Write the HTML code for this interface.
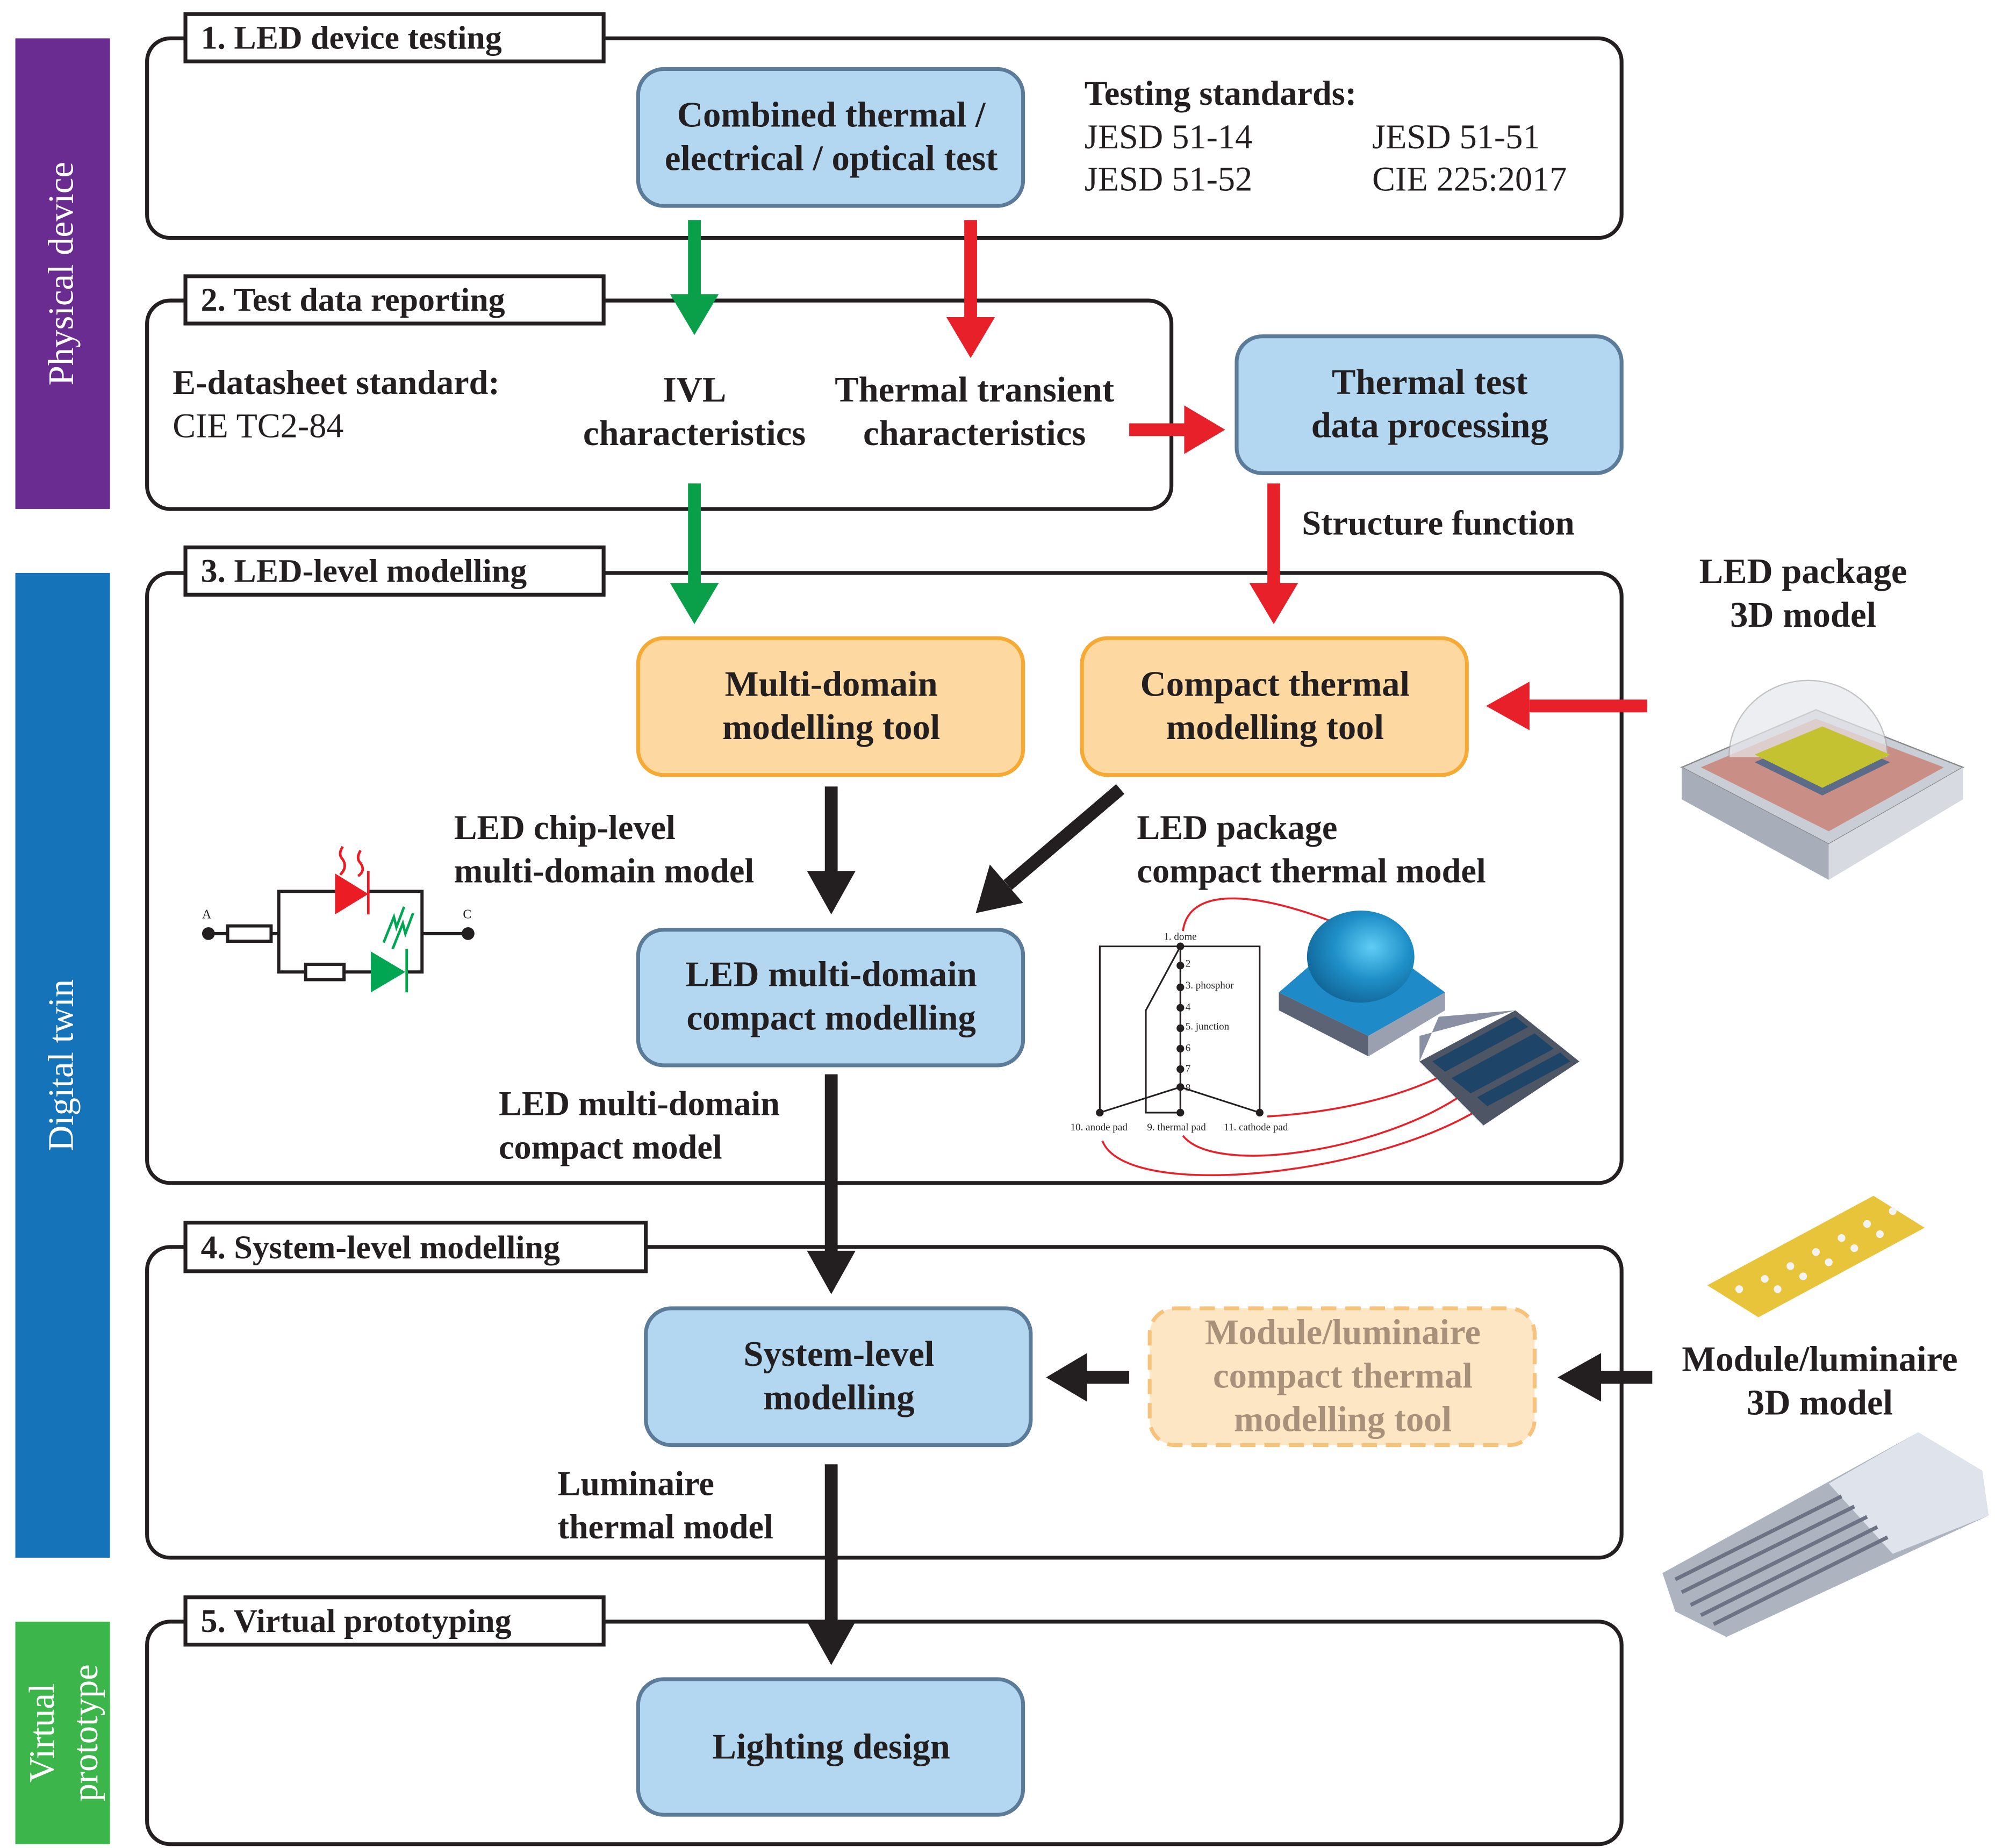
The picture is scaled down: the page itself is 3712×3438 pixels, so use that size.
<!DOCTYPE html>
<html><head><meta charset="utf-8"><style>
html,body{margin:0;padding:0;background:#fff}
svg{display:block}
text{font-family:"Liberation Serif",serif;fill:#231f20}
.b{font-weight:bold}
</style></head><body>
<svg width="3712" height="3438" viewBox="0 0 1560 1445" preserveAspectRatio="none" xmlns="http://www.w3.org/2000/svg">
<defs>
<radialGradient id="dome" cx="0.6" cy="0.4" r="0.7"><stop offset="0" stop-color="#5fcdf5"/><stop offset="0.5" stop-color="#1f8fc8"/><stop offset="1" stop-color="#0f5f90"/></radialGradient>
</defs>
<!-- side bars -->
<rect x="12" y="30" width="74" height="368" fill="#6a2c91"/>
<rect x="12" y="448" width="74" height="770" fill="#1473b9"/>
<rect x="12" y="1268" width="74" height="174" fill="#3cb54a"/>
<text transform="translate(57,214) rotate(-90)" text-anchor="middle" font-size="28" style="fill:#fff">Physical device</text>
<text transform="translate(57,833) rotate(-90)" text-anchor="middle" font-size="28" style="fill:#fff">Digital twin</text>
<text transform="translate(42,1355) rotate(-90)" text-anchor="middle" font-size="28" style="fill:#fff">Virtual</text>
<text transform="translate(76,1355) rotate(-90)" text-anchor="middle" font-size="28" style="fill:#fff">prototype</text>

<!-- section boxes -->
<g fill="none" stroke="#231f20" stroke-width="3">
<rect x="115" y="30" width="1153" height="156" rx="18"/>
<rect x="115" y="235" width="801" height="163" rx="18"/>
<rect x="115" y="448" width="1153" height="477" rx="18"/>
<rect x="115" y="975" width="1153" height="243" rx="18"/>
<rect x="115" y="1268" width="1153" height="174" rx="18"/>
</g>
<g fill="#fff" stroke="#231f20" stroke-width="3">
<rect x="145" y="11" width="327" height="37"/>
<rect x="145" y="216" width="327" height="37"/>
<rect x="145" y="428" width="327" height="37"/>
<rect x="145" y="956" width="360" height="38"/>
<rect x="145" y="1249" width="327" height="37"/>
</g>
<g class="b" font-size="26">
<text x="157" y="38" class="b">1. LED device testing</text>
<text x="157" y="243" class="b">2. Test data reporting</text>
<text x="157" y="455" class="b">3. LED-level modelling</text>
<text x="157" y="984" class="b">4. System-level modelling</text>
<text x="157" y="1276" class="b">5. Virtual prototyping</text>
</g>

<!-- blue boxes -->
<g fill="#b3d6f1" stroke="#5b7b98" stroke-width="3">
<rect x="499" y="54" width="301" height="107" rx="20"/>
<rect x="967" y="263" width="301" height="107" rx="20"/>
<rect x="499" y="727" width="301" height="106" rx="20"/>
<rect x="505" y="1023" width="301" height="107" rx="20"/>
<rect x="499" y="1313" width="301" height="106" rx="20"/>
</g>
<g fill="#fdd9a1" stroke="#f6a933" stroke-width="3">
<rect x="499" y="499" width="301" height="107" rx="20"/>
<rect x="846" y="499" width="301" height="107" rx="20"/>
</g>
<rect x="899" y="1023" width="301" height="107" rx="20" fill="#fde6c4" stroke="#f8c27a" stroke-width="3" stroke-dasharray="12,7"/>

<g font-size="28" text-anchor="middle" class="b">
<text x="650" y="99" class="b">Combined thermal /</text>
<text x="650" y="133" class="b">electrical / optical test</text>
<text x="1118" y="308" class="b">Thermal test</text>
<text x="1118" y="342" class="b">data processing</text>
<text x="650" y="544" class="b">Multi-domain</text>
<text x="650" y="578" class="b">modelling tool</text>
<text x="997" y="544" class="b">Compact thermal</text>
<text x="997" y="578" class="b">modelling tool</text>
<text x="650" y="771" class="b">LED multi-domain</text>
<text x="650" y="805" class="b">compact modelling</text>
<text x="656" y="1068" class="b">System-level</text>
<text x="656" y="1102" class="b">modelling</text>
<text x="1050" y="1051" class="b" style="fill:#a8917a">Module/luminaire</text>
<text x="1050" y="1085" class="b" style="fill:#a8917a">compact thermal</text>
<text x="1050" y="1119" class="b" style="fill:#a8917a">modelling tool</text>
<text x="650" y="1375" class="b">Lighting design</text>
<text x="543" y="314" class="b">IVL</text>
<text x="543" y="348" class="b">characteristics</text>
<text x="762" y="314" class="b">Thermal transient</text>
<text x="762" y="348" class="b">characteristics</text>
<text x="1410" y="456" class="b">LED package</text>
<text x="1410" y="490" class="b">3D model</text>
<text x="1423" y="1072" class="b">Module/luminaire</text>
<text x="1423" y="1106" class="b">3D model</text>
</g>
<g font-size="27">
<text x="848" y="82" class="b">Testing standards:</text>
<text x="848" y="116">JESD 51-14</text>
<text x="1073" y="116">JESD 51-51</text>
<text x="848" y="149">JESD 51-52</text>
<text x="1073" y="149">CIE 225:2017</text>
<text x="135" y="308" class="b">E-datasheet standard:</text>
<text x="135" y="342">CIE TC2-84</text>
<text x="1018" y="418" class="b">Structure function</text>
<text x="355" y="656" class="b">LED chip-level</text>
<text x="355" y="690" class="b">multi-domain model</text>
<text x="889" y="656" class="b">LED package</text>
<text x="889" y="690" class="b">compact thermal model</text>
<text x="390" y="872" class="b">LED multi-domain</text>
<text x="390" y="906" class="b">compact model</text>
<text x="436" y="1169" class="b">Luminaire</text>
<text x="436" y="1203" class="b">thermal model</text>
</g>

<!-- arrows -->
<g fill="#0aa04a">
<rect x="538" y="172" width="10" height="60"/><polygon points="524,230 562,230 543,262"/>
<rect x="538" y="378" width="10" height="80"/><polygon points="524,456 562,456 543,488"/>
</g>
<g fill="#e8202a">
<rect x="754" y="172" width="10" height="78"/><polygon points="740,248 778,248 759,280"/>
<rect x="991" y="378" width="10" height="80"/><polygon points="977,456 1015,456 996,488"/>
<rect x="883" y="331" width="45" height="10"/><polygon points="926,317 926,355 958,336"/>
<rect x="1196" y="547" width="92" height="10"/><polygon points="1196,533 1196,571 1162,552"/>
</g>
<g fill="#231f20">
<rect x="645" y="615" width="10" height="68"/><polygon points="631,681 669,681 650,715"/>
<rect x="645" y="840" width="10" height="140"/><polygon points="631,978 669,978 650,1012"/>
<rect x="645" y="1145" width="10" height="125"/><polygon points="631,1268 669,1268 650,1302"/>
<rect x="848" y="1072" width="35" height="10"/><polygon points="850,1058 850,1096 818,1077"/>
<rect x="1250" y="1072" width="42" height="10"/><polygon points="1252,1058 1252,1096 1218,1077"/>
<line x1="876" y1="617" x2="788" y2="692" stroke="#231f20" stroke-width="10"/>
<polygon points="774,676 800,706 763,714"/>
</g>

<!-- circuit -->
<g stroke="#231f20" stroke-width="2.5" fill="none">
<path d="M163,730 H178 M212,730 H218 V697 H262 M288,697 H330 V730 H366 M218,730 V760 H239 M269,760 H290 M318,760 H330 V730"/>
<rect x="178" y="724" width="34" height="12"/>
<rect x="239" y="754" width="30" height="12"/>
</g>
<circle cx="163" cy="730" r="5" fill="#231f20"/><circle cx="366" cy="730" r="5" fill="#231f20"/>
<text x="158" y="718" font-size="10">A</text><text x="362" y="718" font-size="10">C</text>
<polygon points="262,683 262,715 288,699" fill="#ec1c24"/><line x1="288" y1="681" x2="288" y2="715" stroke="#ec1c24" stroke-width="2"/>
<path d="M268,662 q-4,6 0,10 q4,6 -2,12 M282,665 q-4,6 0,10 q4,6 -2,10" stroke="#ec1c24" stroke-width="2" fill="none"/>
<polygon points="290,744 290,776 317,760" fill="#00a651"/><line x1="318" y1="742" x2="318" y2="776" stroke="#00a651" stroke-width="2"/>
<path d="M300,737 l8,-20 l2,8 l6,-16 M307,742 l8,-20 l2,8 l6,-16" stroke="#00a651" stroke-width="2" fill="none"/>

<!-- thermal network -->
<g stroke="#231f20" stroke-width="1.3" fill="none">
<path d="M860,870 V740 H985 V870 M923,740 V870 M923,740 L896,790 V870 H923 M860,870 L923,850 L985,870"/>
</g>
<g fill="#231f20">
<circle cx="923" cy="740" r="3"/><circle cx="923" cy="755" r="3"/><circle cx="923" cy="772" r="3"/><circle cx="923" cy="788" r="3"/><circle cx="923" cy="804" r="3"/><circle cx="923" cy="820" r="3"/><circle cx="923" cy="836" r="3"/><circle cx="923" cy="850" r="3"/>
<circle cx="860" cy="870" r="3"/><circle cx="923" cy="870" r="3"/><circle cx="985" cy="870" r="3"/>
</g>
<g font-size="8">
<text x="910" y="735">1. dome</text><text x="927" y="756">2</text><text x="927" y="773">3. phosphor</text><text x="927" y="790">4</text><text x="927" y="805">5. junction</text><text x="927" y="822">6</text><text x="927" y="838">7</text><text x="927" y="853">8</text>
<text x="837" y="884">10. anode pad</text><text x="897" y="884">9. thermal pad</text><text x="957" y="884">11. cathode pad</text>
</g>
<g stroke="#e8202a" stroke-width="1.5" fill="none">
<path d="M925,728 C930,690 990,700 1045,722"/>
<path d="M991,873 C1040,870 1090,860 1130,840"/>
<path d="M925,888 C950,920 1080,900 1145,855"/>
<path d="M862,892 C880,940 1080,920 1165,862"/>
</g>
<!-- dome package -->
<polygon points="1000,776 1060,724 1130,776 1070,810" fill="#1e8ac8"/>
<polygon points="1000,776 1070,810 1070,826 1000,790" fill="#5c6375"/>
<polygon points="1070,810 1130,776 1130,790 1070,826" fill="#9aa0b0"/>
<ellipse cx="1064" cy="748" rx="42" ry="36" fill="url(#dome)"/>
<!-- bottom package -->
<polygon points="1110,830 1185,790 1235,830 1160,880" fill="#4e5666"/>
<polygon points="1120,830 1185,795 1195,803 1130,838" fill="#1e4468"/>
<polygon points="1135,843 1200,808 1215,820 1150,855" fill="#1e4468"/>
<polygon points="1155,858 1220,823 1228,830 1163,865" fill="#1e4468"/>
<polygon points="1110,830 1125,795 1185,790 1110,810" fill="#8a90a4"/>

<!-- LED package 3D -->
<polygon points="1315,600 1420,555 1535,600 1430,660" fill="#c9cdd6" stroke="#888" stroke-width="1"/>
<polygon points="1315,600 1430,660 1430,688 1315,625" fill="#a7adb9"/>
<polygon points="1430,660 1535,600 1535,625 1430,688" fill="#d7dae1"/>
<polygon points="1330,600 1420,562 1520,600 1430,650" fill="#c98f86"/>
<path d="M1352,592 A62,60 0 0 1 1476,592" fill="#e6e8ec" stroke="#aaa" opacity="0.7"/>
<polygon points="1372,596 1425,574 1478,596 1425,622" fill="#5b6b88"/>
<polygon points="1372,590 1425,568 1478,590 1425,616" fill="#c4c230"/>
<!-- module -->
<polygon points="1335,1005 1465,935 1505,960 1375,1030" fill="#e7c43a"/>
<g fill="#f3f3f3">
<circle cx="1380" cy="1000" r="3"/><circle cx="1400" cy="990" r="3"/><circle cx="1420" cy="979" r="3"/><circle cx="1440" cy="968" r="3"/><circle cx="1460" cy="957" r="3"/><circle cx="1480" cy="947" r="3"/>
<circle cx="1360" cy="1008" r="3"/><circle cx="1390" cy="1008" r="3"/><circle cx="1410" cy="998" r="3"/><circle cx="1430" cy="987" r="3"/><circle cx="1450" cy="976" r="3"/><circle cx="1470" cy="965" r="3"/>
</g>
<!-- luminaire -->
<polygon points="1300,1230 1500,1120 1550,1150 1555,1185 1350,1280 1310,1260" fill="#aeb3c0"/>
<polygon points="1430,1160 1500,1120 1550,1150 1555,1185 1480,1215" fill="#dfe3ec"/>
<g stroke="#6d7384" stroke-width="3">
<line x1="1310" y1="1235" x2="1440" y2="1170"/><line x1="1315" y1="1245" x2="1450" y2="1178"/><line x1="1322" y1="1255" x2="1460" y2="1186"/><line x1="1330" y1="1263" x2="1468" y2="1194"/><line x1="1340" y1="1270" x2="1476" y2="1202"/>
</g>
</svg>
</body></html>
